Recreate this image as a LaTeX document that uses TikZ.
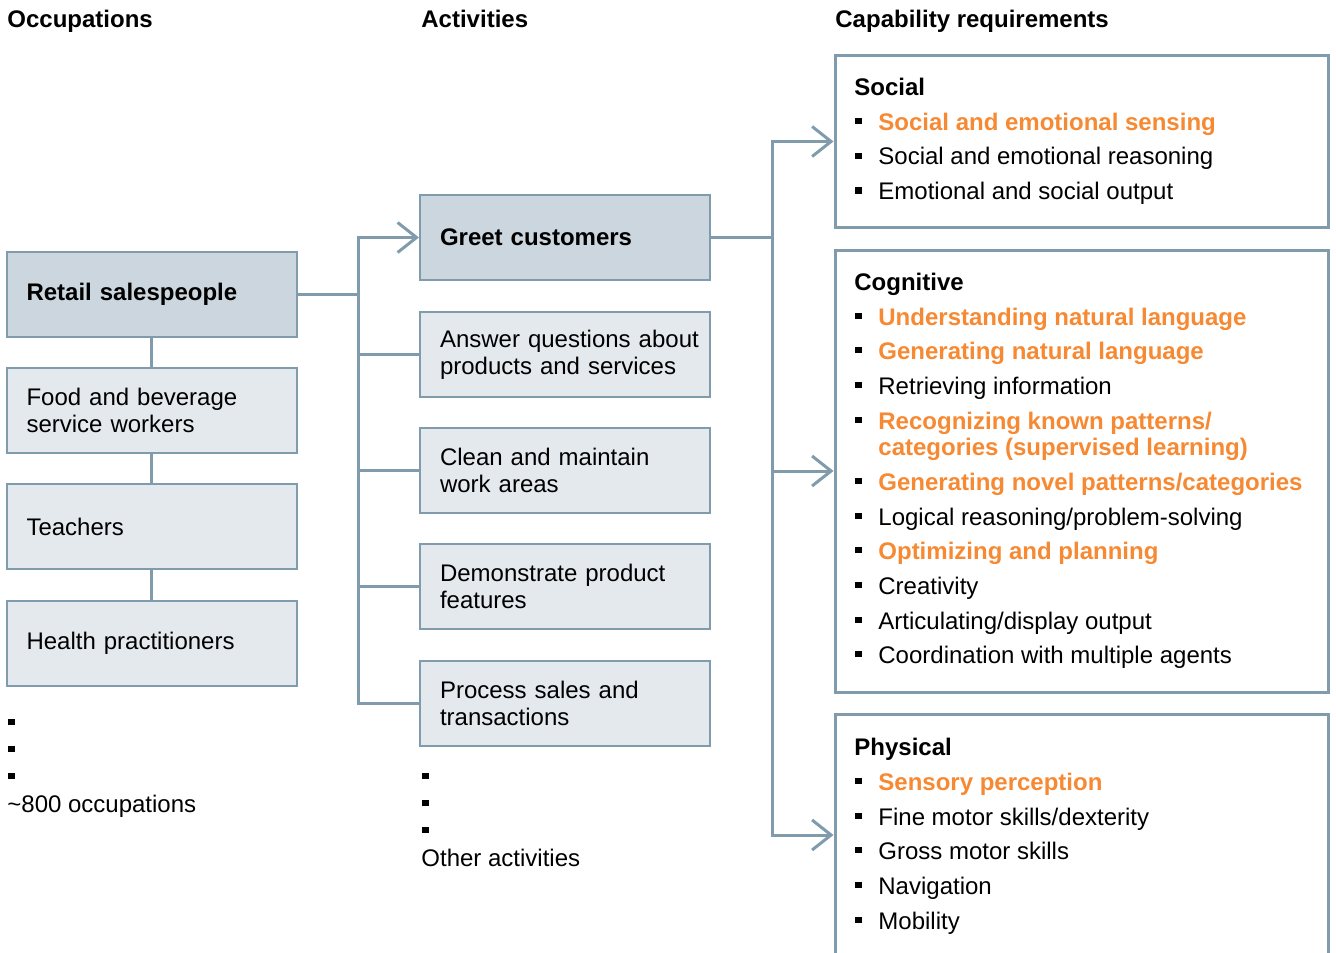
\documentclass[tikz,border=0pt]{standalone}
\usepackage{fontspec}
\setmainfont{Liberation Sans}
\usetikzlibrary{arrows.meta}

\definecolor{linkcol}{RGB}{127,155,172}
\definecolor{boxdark}{RGB}{203,214,222}
\definecolor{boxlight}{RGB}{228,233,238}
\definecolor{accent}{RGB}{246,137,50}
\newcommand{\sq}{\makebox[11.5pt][l]{\rule[3pt]{3.2pt}{3.2pt}}}
\newcommand{\hot}[1]{{\bfseries\color{accent}#1}}

\begin{document}
\begin{tikzpicture}[x=0.5pt, y=-0.5pt, every node/.style={font=\fontsize{12}{13.5}\selectfont}, >={Straight Barb[length=9.5pt, width=15pt]}, box/.style={draw=linkcol, line width=1pt, fill=boxlight, minimum width=145pt, minimum height=42.5pt, text width=125pt, inner xsep=10pt, inner ysep=0pt, align=left}, sel/.style={box, fill=boxdark, font=\fontsize{12}{13.5}\selectfont\bfseries}, capbox/.style={draw=linkcol, line width=1.5pt, minimum width=246.5pt, inner sep=0pt}, txt/.style={anchor=base west, inner sep=0pt}, hd/.style={txt, font=\fontsize{12}{13.5}\selectfont\bfseries}, link/.style={draw=linkcol, line width=1.5pt}]
	\useasboundingbox (0,0) rectangle (1336,952);
	% headings
	\node[hd] (h1) at (7,28) {Occupations};
	\node[hd] (h2) at (421,28) {Activities};
	\node[hd] (h3) at (835,28) {Capability requirements};
	% occupations
	\node[sel] (retail) at (151.5,294.5) {Retail salespeople};
	\node[box] (food) at (151.5,410) {Food and beverage\\service workers};
	\node[box] (teach) at (151.5,526.5) {Teachers};
	\node[box] (health) at (151.5,643) {Health practitioners};
	\draw[link] (retail) -- (food); \draw[link] (food) -- (teach); \draw[link] (teach) -- (health);
	\foreach \y [count=\i] in {731,758,785} {\node[txt] (od\i) at (8,\y) {\sq};}
	\node[txt] (omore) at (7,812) {\textasciitilde800 occupations};
	% activities
	\node[sel] (greet) at (565,237.5) {Greet customers};
	\node[box] (answer) at (565,354.5) {\mbox{Answer questions about}\\products and services};
	\node[box] (clean) at (565,470.5) {Clean and maintain\\work areas};
	\node[box] (demo) at (565,586.5) {Demonstrate product\\features};
	\node[box] (sales) at (565,703.5) {Process sales and\\transactions};
	\foreach \y [count=\i] in {785,812,839} {\node[txt] (ad\i) at (422,\y) {\sq};}
	\node[txt] (amore) at (421,866) {Other activities};
	\coordinate (j1) at (358,0);
	\draw[link] (retail.east) -- (retail.east -| j1);
	\draw[link, ->] (sales.west) -- (sales.west -| j1) -- (greet.west -| j1) -- (greet.west);
	\foreach \b in {answer,clean,demo} {\draw[link] (\b.west -| j1) -- (\b.west);}
	% capability requirements
	\node[capbox, minimum height=85.5pt] (social) at (1081.5,141.5) {};
	\node[capbox, minimum height=221pt] (cogn) at (1081.5,471) {};
	\node[capbox, minimum height=121pt] (phys) at (1081.5,835) {};
	\coordinate (j2) at (772,0);
	\draw[link] (greet.east) -- (greet.east -| j2);
	\draw[link, <->] (social.west) -- (social.west -| j2) -- (phys.west -| j2) -- (phys.west);
	\draw[link, ->] (cogn.west -| j2) -- (cogn.west);
	\node[hd] (st) at (854,96) {Social};
	\foreach \y/\t [count=\i] in {130.5/{\hot{Social and emotional sensing}}, 165/{Social and emotional reasoning}, 199.5/{Emotional and social output}} {\node[txt] (s\i) at (855,\y) {\sq\t};}
	\node[hd] (ct) at (854,290) {Cognitive};
	\foreach \y/\t [count=\i] in {325/{\hot{Understanding natural language}}, 359/{\hot{Generating natural language}}, 394/{Retrieving information}, 429/{\hot{Recognizing known patterns/}}, 490/{\hot{Generating novel patterns/categories}}, 525/{Logical reasoning/problem-solving}, 559/{\hot{Optimizing and planning}}, 594/{Creativity}, 629/{Articulating/display output}, 663/{Coordination with multiple agents}} {\node[txt] (c\i) at (855,\y) {\sq\t};}
	\node[txt] (c4b) at (878,455) {\hot{categories (supervised learning)}};
	\node[hd] (pt) at (854,755) {Physical};
	\foreach \y/\t [count=\i] in {790/{\hot{Sensory perception}}, 825/{Fine motor skills/dexterity}, 859/{Gross motor skills}, 894/{Navigation}, 929/{Mobility}} {\node[txt] (p\i) at (855,\y) {\sq\t};}
\end{tikzpicture}
\end{document}
